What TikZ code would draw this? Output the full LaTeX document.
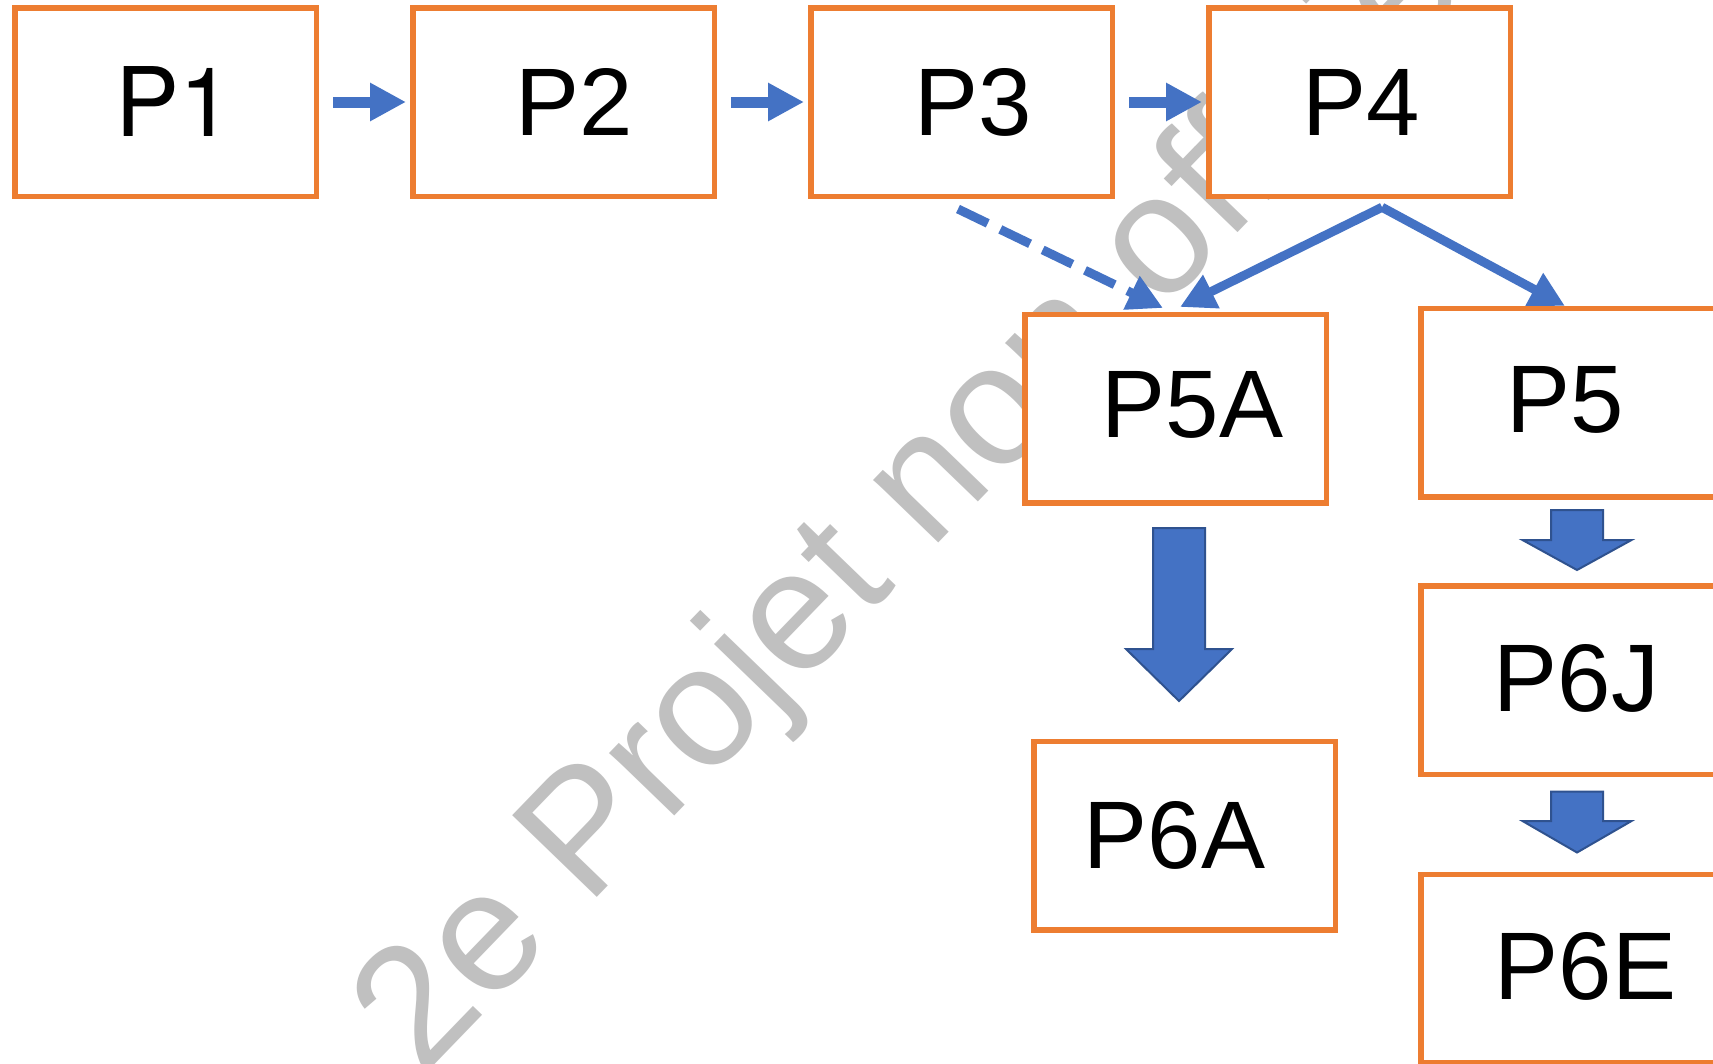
\documentclass[tikz,border=0pt]{standalone}
\usepackage{fontspec}
\setmainfont{Liberation Sans}
\newfontfamily\herosfont{TeX Gyre Heros}
\usetikzlibrary{arrows.meta,calc}
\definecolor{boxorange}{HTML}{ED7D31}
\definecolor{linkblue}{HTML}{4472C4}
\definecolor{arrowedge}{HTML}{2F528F}
\definecolor{wmgrey}{HTML}{C0C0C0}
\tikzset{
  pbox/.style={draw=boxorange, line width=5.5pt, fill=white, outer sep=0pt, inner sep=0pt,
    minimum width=301.5pt, minimum height=188.5pt, font=\fontsize{96}{110}\selectfont},
  toplink/.style={draw=linkblue, line width=11pt, -{Triangle[length=36pt,width=36pt]}},
  link/.style={draw=linkblue, line width=9pt, -{Triangle[length=35pt,width=35pt]}},
  dashlink/.style={link, dash pattern=on 33pt off 14pt},
  blockarrow/.style={fill=linkblue, draw=arrowedge, line width=2pt, line join=miter},
  watermark/.style={text=wmgrey, inner sep=0pt, font=\fontsize{171}{190}\selectfont}
}
\begin{document}
\begin{tikzpicture}[x=1pt,y=-1pt]
\useasboundingbox (0,0) rectangle (1713,1063);
\clip (0,0) rectangle (1713,1063);
\fill[white] (0,0) rectangle (1713,1063);
% watermark behind the boxes
\node[watermark, rotate=46, anchor=base west] (wm) at (422,1078) {2e Projet non officiel};
% boxes
\node[pbox, font=\fontsize{96}{110}\herosfont] (P1) at (165.5,102) {\hspace*{17pt}P1};
\node[pbox] (P2) at (563.5,102) {\hspace*{22pt}P2};
\node[pbox] (P3) at (961.5,102) {\hspace*{24pt}P3};
\node[pbox] (P4) at (1359.5,102) {\hspace*{4pt}P4};
\node[pbox] (P5A) at (1175.5,408.5) {\raisebox{8pt}{\hspace*{34pt}P5A}};
\node[pbox] (P5) at (1571.5,402.5) {\raisebox{6pt}{P5\hspace*{13pt}}};
\node[pbox] (P6A) at (1184.5,835.5) {P6A\hspace*{20pt}};
\node[pbox] (P6J) at (1571.5,680) {\raisebox{5pt}{\hspace*{10pt}P6J}};
\node[pbox] (P6E) at (1571.5,968.5) {\raisebox{5pt}{\hspace*{28pt}P6E}};
% top connectors
\draw[toplink] ([xshift=16.75pt]P1.east) -- ([xshift=-6.75pt]P2.west);
\draw[toplink] ([xshift=16.75pt]P2.east) -- ([xshift=-6.75pt]P3.west);
\draw[toplink] ([xshift=16.75pt]P3.east) -- ([xshift=-6.75pt]P4.west);
% diagonal connectors
\draw[dashlink] ([xshift=-3.5pt,yshift=-12.75pt]P3.south) -- ([xshift=-12.5pt,yshift=6.25pt]P5A.north);
\draw[link] ([xshift=22.5pt,yshift=-11pt]P4.south) -- ([xshift=4.5pt,yshift=7.25pt]P5A.north);
\draw[link] ([xshift=22.5pt,yshift=-11pt]P4.south) -- ([xshift=-6.5pt,yshift=2.25pt]P5.north);
% block arrows
\begin{scope}[shift={(P5A.south)}]
\draw[blockarrow] (-22.5,25.25) -- (29.5,25.25) -- (29.5,146.25) -- (56.5,146.25) -- (3.5,198.25) -- (-49.5,146.25) -- (-22.5,146.25) -- cycle;
\end{scope}
\begin{scope}[shift={(P5.south)}]
\draw[blockarrow] (-20.5,13.25) -- (31.5,13.25) -- (31.5,43.25) -- (60,43.25) -- (5.5,73.25) -- (-49,43.25) -- (-20.5,43.25) -- cycle;
\end{scope}
\begin{scope}[shift={(P6J.south)}]
\draw[blockarrow] (-20.5,17.25) -- (31.5,17.25) -- (31.5,46.75) -- (60,46.75) -- (5.5,78.25) -- (-49,46.75) -- (-20.5,46.75) -- cycle;
\end{scope}
\end{tikzpicture}
\end{document}
